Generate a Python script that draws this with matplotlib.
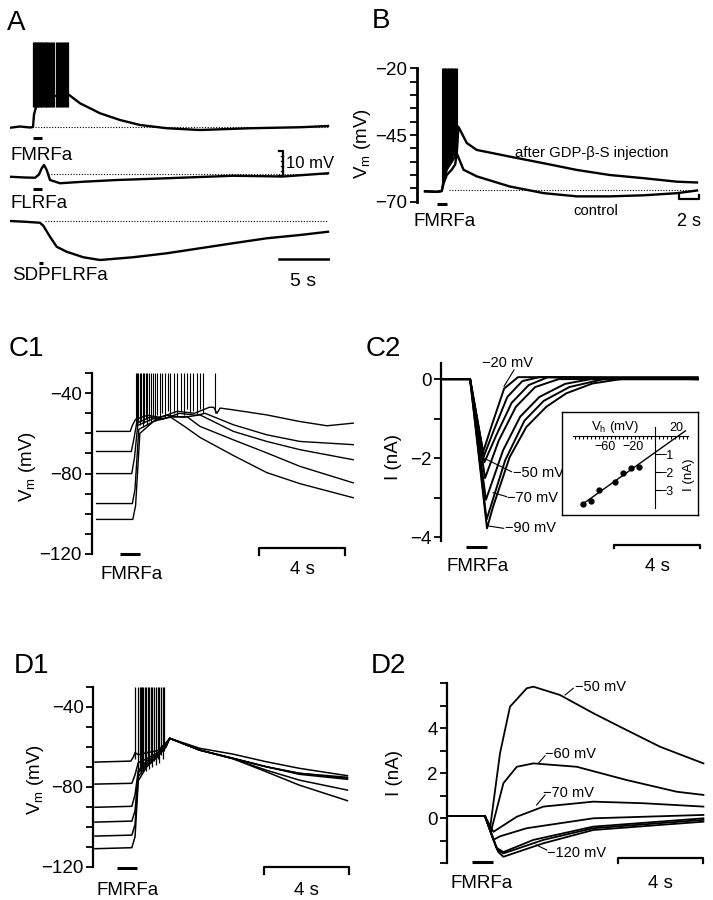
import numpy as np
import matplotlib.pyplot as plt

plt.rcParams['font.family'] = 'Liberation Sans'
plt.rcParams['mathtext.fontset'] = 'custom'
plt.rcParams['mathtext.rm'] = 'Liberation Sans'
plt.rcParams['mathtext.it'] = 'Liberation Sans:italic'

W, H = 713, 900
fig = plt.figure(figsize=(W / 100, H / 100), dpi=100)

# ---------------- data ----------------
# A: three traces (time s, mV relative to FMRFa baseline)
a1_t = [0.0, 1.0, 2.0, 2.30, 2.40, 2.60, 3.00, 3.50, 4.30, 5.00, 5.70, 5.85, 7.00, 9.00, 11.0, 13.0, 15.7, 19.0, 24.0, 29.0, 31.8]
a1_v = [-0.3, 0.2, -0.2, 0.0, 5.0, 8.0, 10.8, 13.0, 12.5, 12.3, 13.5, 13.0, 9.5, 5.5, 2.8, 0.8, -0.5, -1.2, -0.5, -0.1, 0.4]
a1_spk = [2.30, 2.38, 2.45, 2.52, 2.60, 2.68, 2.75, 2.83, 2.90, 2.98, 3.06, 3.14, 3.22, 3.30,
          3.38, 3.46, 3.55, 3.63, 3.72, 3.80, 3.90, 3.98, 4.08, 4.17, 4.27, 4.36, 4.60, 4.70,
          4.80, 4.90, 5.00, 5.10, 5.20, 5.30, 5.40, 5.50, 5.60, 5.70, 5.80]
a2_t = [0.0, 1.5, 2.5, 2.9, 3.17, 3.4, 3.67, 4.0, 5.0, 7.3, 10.7, 15.7, 22.3, 27.3, 31.8]
a2_v = [-19.9, -20.2, -20.3, -19.0, -16.5, -15.2, -17.2, -21.2, -22.5, -21.9, -21.2, -20.5, -19.5, -19.8, -18.5]
a3_t = [0.0, 1.5, 3.0, 3.33, 4.0, 4.67, 5.67, 7.33, 9.0, 12.3, 15.7, 19.0, 22.3, 25.7, 29.0, 31.8]
a3_v = [-37.6, -37.9, -38.3, -39.5, -43.9, -47.9, -49.9, -52.1, -53.2, -52.1, -50.5, -48.5, -46.5, -44.5, -43.2, -41.9]
a_rest = [0.0, -18.9, -37.7]
a_rest_start = [2.5, 3.8, 3.5]
a_names = ['FMRFa', 'FLRFa', 'SDPFLRFa']
a_stim = [(2.33, 3.17, -4.5), (2.33, 3.17, -24.7), (2.93, 3.33, -54.3)]
a_name_y = [-11.2, -30.5, -59.6]

# B: control vs after GDP-beta-S (time s, mV)
b_gdp_t = [0.83, 2.0, 2.5, 2.7, 3.0, 3.5, 4.0, 4.17, 5.0, 6.0, 9.3, 12.7, 16.0, 19.3, 22.7, 26.0, 28.0]
b_gdp_v = [-66.1, -66.3, -66.0, -62, -58, -55, -52, -41.9, -48.0, -50.6, -53.1, -55.6, -58.1, -60.0, -61.2, -62.5, -62.8]
b_ctl_t = [0.83, 2.0, 2.5, 2.7, 3.0, 3.5, 3.85, 4.0, 4.67, 6.0, 9.3, 12.7, 16.0, 19.3, 22.7, 26.0, 28.0]
b_ctl_v = [-66.1, -66.3, -66.0, -63, -60, -58, -56, -51.8, -58.0, -60.5, -64.3, -66.8, -68.0, -68.0, -67.6, -66.8, -65.8]
b_spk_t = [2.55, 2.62, 2.70, 2.78, 2.85, 2.92, 3.00, 3.08, 3.15, 3.22, 3.30, 3.38, 3.45, 3.52, 3.60, 3.70, 3.80, 3.92, 4.05]
b_spk_lo = [-64, -62, -60, -59, -58, -58, -57, -57, -56, -56, -55, -55, -54, -54, -53, -53, -52, -51, -50]
b_rest = -65.8

# C1: current clamp at five holding levels (time s, mV)
c1_t = [
    [0.23, 1.80, 1.90, 2.05, 2.6, 3.2, 4.0, 4.8, 5.5, 5.70, 5.85, 6.0, 6.62, 8.18, 9.73, 11.0, 12.22],
    [0.23, 1.85, 1.95, 2.10, 2.7, 3.3, 4.1, 4.9, 5.3, 6.62, 8.18, 9.73, 12.22],
    [0.23, 1.87, 2.0, 2.15, 2.8, 3.5, 4.3, 5.06, 6.62, 8.18, 9.73, 12.22],
    [0.23, 1.90, 2.02, 2.20, 2.9, 3.6, 4.44, 5.06, 6.62, 8.18, 9.73, 12.22],
    [0.23, 1.92, 2.05, 2.25, 3.0, 3.7, 4.4, 5.06, 6.62, 8.18, 9.73, 12.22],
]
c1_v = [
    [-59.0, -59.0, -56, -53, -51, -52, -49, -50, -47, -47, -50, -47.4, -48.3, -50.8, -54.1, -56.2, -54.9],
    [-69.0, -69.0, -64, -55, -52, -53, -50, -51, -50, -55.7, -60.7, -64.0, -65.6],
    [-80, -80, -72, -56, -53, -51, -52, -50.8, -59, -64, -68.1, -73.1],
    [-94.9, -94.9, -88, -58, -54, -52, -51.6, -56.5, -63.2, -69.7, -76.4, -84.6],
    [-102.8, -102.8, -96, -60, -53, -52, -57, -62, -71, -79.5, -85, -92],
]
c1_spk_t = [2.05, 2.12, 2.18, 2.25, 2.32, 2.38, 2.45, 2.52, 2.60, 2.68, 2.76, 2.85, 2.95, 3.05, 3.18,
            3.30, 3.42, 3.55, 3.68, 3.85, 4.0, 4.15, 4.3, 4.45, 4.6, 4.75, 4.9, 5.05, 5.2, 5.76]
c1_spk_lo = [-56, -57, -55, -56, -54, -57, -55, -53, -56, -54, -55, -52, -54, -51, -53,
             -50, -52, -49, -51, -50, -52, -49, -51, -48, -50, -49, -51, -48, -50, -50]

# C2: voltage clamp currents (time s, nA), holding -90 ... -20 mV
c2_t = [
    [0.05, 1.36, 2.15, 2.43, 3.21, 3.99, 4.92, 5.85, 7.08, 8.64, 12.0],
    [0.05, 1.36, 2.13, 3.0, 3.9, 4.8, 6.0, 7.6, 12.0],
    [0.05, 1.36, 2.10, 2.9, 3.7, 4.6, 5.8, 7.0, 12.0],
    [0.05, 1.36, 2.06, 2.7, 3.5, 4.4, 5.5, 12.0],
    [0.05, 1.36, 2.03, 2.6, 3.3, 4.1, 5.0, 12.0],
    [0.05, 1.36, 2.00, 2.5, 3.1, 3.8, 4.6, 12.0],
    [0.05, 1.36, 1.97, 2.40, 2.95, 3.6, 12.0],
]
c2_i = [
    [0.0, 0.0, -3.77, -3.23, -1.97, -1.21, -0.70, -0.36, -0.11, 0.02, 0.0],
    [0.0, 0.0, -3.55, -2.05, -1.05, -0.55, -0.2, 0.0, 0.0],
    [0.0, 0.0, -3.05, -1.8, -0.95, -0.45, -0.12, 0.0, 0.0],
    [0.0, 0.0, -2.5, -1.55, -0.7, -0.2, 0.0, 0.0],
    [0.0, 0.0, -2.1, -1.4, -0.6, -0.15, 0.05, 0.0],
    [0.0, 0.0, -1.95, -1.25, -0.45, -0.05, 0.05, 0.0],
    [0.0, 0.0, -1.84, -1.12, -0.24, 0.05, 0.05],
]
c2_labels = ['−20 mV', '−50 mV', '−70 mV', '−90 mV']
c2_label_pos = [(1.90, 0.40), (3.38, -2.37), (3.07, -3.01), (3.00, -3.77)]
c2_leader = [((2.95, 3.41), (-0.18, 0.23)), ((2.13, 3.30), (-2.03, -2.34)),
             ((2.44, 3.07), (-2.87, -2.97)), ((2.21, 2.93), (-3.71, -3.77))]

# C2 inset: peak current vs holding potential
iv_v = [-90, -80, -70, -50, -40, -30, -20]
iv_i = [-3.78, -3.59, -3.0, -2.54, -2.07, -1.79, -1.70]

# D1: current clamp, six holding levels (time s, mV)
d1_t = [
    [0.08, 1.75, 1.88, 1.95, 2.1, 2.5, 3.0, 3.4, 3.57, 4.97, 6.52, 8.07, 9.62, 11.87],
    [0.08, 1.80, 1.95, 2.1, 2.5, 3.0, 3.4, 3.57, 4.97, 6.52, 8.07, 9.62, 11.87],
    [0.08, 1.80, 1.95, 2.1, 2.5, 3.0, 3.4, 3.57, 4.97, 6.52, 8.07, 9.62, 11.87],
    [0.08, 1.80, 1.95, 2.1, 2.5, 3.0, 3.4, 3.57, 4.97, 6.52, 8.07, 9.62, 11.87],
    [0.08, 1.80, 1.95, 2.1, 2.5, 3.0, 3.4, 3.57, 4.97, 6.52, 8.07, 9.62, 11.87],
    [0.08, 1.80, 1.95, 2.1, 2.5, 3.0, 3.4, 3.57, 4.97, 6.52, 8.07, 9.62, 11.87],
]
d1_v = [
    [-67.7, -67.2, -65, -63, -64, -63, -62, -58, -55.8, -60.8, -63.7, -67.5, -70.8, -74.5],
    [-78.7, -78.3, -74, -68, -66, -63, -59, -55.8, -61.7, -65.8, -70, -73.3, -75.3],
    [-90.3, -89.8, -84, -72, -67, -64, -59, -55.8, -61.7, -65.8, -70, -73.3, -75.8],
    [-97.7, -97.2, -92, -73, -68, -64, -59, -55.8, -61.7, -65.8, -70, -73.8, -76.3],
    [-104.7, -104.2, -99, -75, -69, -65, -60, -55.8, -61.7, -66, -71.7, -76.7, -81.7],
    [-111, -110.5, -105, -77, -70, -65, -60, -55.8, -61.7, -66, -72.5, -79.2, -87],
]
d1_spk_t = [1.93, 2.10, 2.16, 2.22, 2.28, 2.34, 2.40, 2.47, 2.54, 2.61, 2.68, 2.76, 2.84, 2.92, 3.00, 3.08, 3.16, 3.24, 3.31]
d1_spk_lo = [-66, -73, -72, -73, -71, -72, -70, -72, -69, -71, -68, -70, -67, -69, -66, -68, -64, -66, -62]

# D2: voltage clamp currents (time s, nA), holding -50 ... -120 mV
d2_t = [
    [0.04, 1.77, 2.01, 2.48, 2.95, 3.74, 4.05, 5.30, 6.87, 8.44, 10.01, 12.05],
    [0.04, 1.77, 2.05, 2.64, 3.27, 4.05, 6.09, 8.44, 10.8, 12.05],
    [0.04, 1.77, 2.17, 3.27, 4.52, 6.87, 9.22, 12.05],
    [0.04, 1.77, 2.17, 2.48, 3.74, 6.87, 12.05],
    [0.04, 1.77, 2.30, 2.64, 4.05, 6.87, 12.05],
    [0.04, 1.77, 2.35, 2.64, 4.52, 6.87, 12.05],
    [0.04, 1.77, 2.40, 2.64, 4.52, 6.87, 12.05],
]
d2_i = [
    [0.1, 0.1, -0.45, 2.89, 4.96, 5.78, 5.85, 5.48, 4.67, 3.92, 3.18, 2.44],
    [0.1, 0.1, -0.6, 1.56, 2.29, 2.44, 2.29, 1.70, 1.18, 1.04],
    [0.1, 0.1, -0.6, 0.07, 0.52, 0.74, 0.67, 0.52],
    [0.1, 0.1, -0.96, -0.8, -0.44, 0.0, 0.15],
    [0.1, 0.1, -1.3, -1.5, -0.96, -0.37, 0.0],
    [0.1, 0.1, -1.4, -1.56, -0.96, -0.44, -0.07],
    [0.1, 0.1, -1.5, -1.71, -1.11, -0.52, -0.15],
]
d2_labels = ['−50 mV', '−60 mV', '−70 mV', '−120 mV']
d2_label_pos = [(6.0, 5.85), (4.6, 2.86), (4.52, 1.11), (4.68, -1.53)]
d2_leader = [((5.54, 5.93), (5.48, 5.78)), ((4.28, 4.6), (2.44, 2.78)),
             ((4.2, 4.6), (0.59, 1.04)), ((4.18, 4.68), (-1.18, -1.41))]


# ---------------- helpers ----------------
def px_axes(x0, y0, x1, y1):
    ax = fig.add_axes([x0 / W, 1 - y1 / H, (x1 - x0) / W, (y1 - y0) / H])
    ax.patch.set_visible(False)
    return ax


def ftext(x, y, s, **kw):
    fig.text(x / W, 1 - y / H, s, **kw)


def left_axis(ax, xlim, ylim, major, minor):
    for s in ['top', 'right', 'bottom']:
        ax.spines[s].set_visible(False)
    ax.spines['left'].set_linewidth(1.6)
    ax.set_xlim(*xlim)
    ax.set_ylim(*ylim)
    ax.set_yticks(major)
    ax.set_yticks(minor, minor=True)
    ax.tick_params(axis='y', which='both', direction='out', length=5, width=1.3,
                   pad=2, labelsize=13.5)
    ax.set_xticks([])


def stim(ax, t0, t1, y):
    ax.plot([t0, t1], [y, y], color='k', lw=2.2, solid_capstyle='butt', clip_on=False)


def hbar(ax, t0, t1, y, drop, label, ly, fs=13.5):
    ax.plot([t0, t0, t1, t1], [y - drop, y, y, y - drop], color='k', lw=1.6, clip_on=False)
    ax.text((t0 + t1) / 2, ly, label, ha='center', va='center', fontsize=fs)


# ---------------- panel A ----------------
axA = px_axes(10, 30, 330, 290)
axA.axis('off')
axA.set_xlim(0, 32)
axA.set_ylim(-65.2, 38.8)
for t, v in [(a1_t, a1_v), (a2_t, a2_v), (a3_t, a3_v)]:
    axA.plot(t, v, color='k', lw=1.7)
axA.vlines(a1_spk, 8, 34, colors='k', lw=0.9)
for y0, ts in zip(a_rest, a_rest_start):
    axA.plot([ts, 31.8], [y0, y0], color='k', lw=0.8, ls=(0, (1, 1.5)))
for (t0, t1, y), name, ny in zip(a_stim, a_names, a_name_y):
    stim(axA, t0, t1, y)
    axA.text(0.1 if name != 'SDPFLRFa' else 0.17, ny, name, ha='left', va='center', fontsize=13.5)
# 10 mV scale bar (ruler style)
axA.plot([26.9, 27.27, 27.27, 26.9], [-9.5, -9.5, -19.5, -19.5], color='k', lw=1.6)
for y in [-11.5, -13.5, -15.5, -17.5]:
    axA.plot([27.05, 27.27], [y, y], color='k', lw=1.0)
axA.text(27.6, -14.5, '10 mV', ha='left', va='center', fontsize=12)
axA.plot([26.93, 31.93], [-52.9, -52.9], color='k', lw=1.8)
axA.text(29.3, -61.9, '5 s', ha='center', va='center', fontsize=14)

# ---------------- panel B ----------------
axB = px_axes(416.7, 68.3, 702, 201.7)
left_axis(axB, (0, 28.5), (-70, -20), [-70, -45, -20], list(range(-70, -19, 5)))
axB.spines['left'].set_linewidth(2.0)
axB.plot(b_gdp_t, b_gdp_v, color='k', lw=1.7)
axB.plot(b_ctl_t, b_ctl_v, color='k', lw=1.7)
axB.vlines(b_spk_t, b_spk_lo, -20, colors='k', lw=0.8)
axB.plot([3.2, 28.2], [b_rest, b_rest], color='k', lw=0.8, ls=(0, (1, 1.5)))
stim(axB, 2.07, 3.07, -71)
axB.text(-0.3, -77.4, 'FMRFa', ha='left', va='center', fontsize=13.5)
hbar(axB, 26.17, 28.17, -69, -1.6, '2 s', -77.4, fs=13)
axB.text(9.83, -51.8, 'after GDP-β-S injection', ha='left', va='center', fontsize=10.7)
axB.text(15.67, -73.6, 'control', ha='left', va='center', fontsize=10.7)
ftext(363, 144, r'V$_{\rm m}$ (mV)', rotation=90, ha='center', va='center', fontsize=13.5)

# ---------------- panel C1 ----------------
axC1 = px_axes(91.7, 373.1, 356, 554)
left_axis(axC1, (0, 12.35), (-120, -30), [-120, -80, -40], list(range(-120, -29, 10)))
for t, v in zip(c1_t, c1_v):
    axC1.plot(t, v, color='k', lw=1.0)
axC1.vlines(c1_spk_t, c1_spk_lo, -30, colors='k', lw=0.8)
stim(axC1, 1.32, 2.26, -120)
axC1.text(0.39, -130, 'FMRFa', ha='left', va='center', fontsize=13.5)
hbar(axC1, 7.83, 11.83, -116.8, 3.5, '4 s', -127.6)
ftext(28, 467, r'V$_{\rm m}$ (mV)', rotation=90, ha='center', va='center', fontsize=13.5)

# ---------------- panel C2 ----------------
axC2 = px_axes(441, 363.3, 702, 541.4)
left_axis(axC2, (0, 12.2), (-4.1, 0.4), [-4, -2, 0], [-4, -3, -2, -1, 0])
for t, i in zip(c2_t, c2_i):
    axC2.plot(t, i, color='k', lw=1.4)
for lab, (x, y), (lx, ly) in zip(c2_labels, c2_label_pos, c2_leader):
    axC2.plot(lx, ly, color='k', lw=0.8)
    axC2.text(x, y, lab, ha='left', va='center', fontsize=10.5)
stim(axC2, 1.17, 2.16, -4.23)
axC2.text(0.27, -4.74, 'FMRFa', ha='left', va='center', fontsize=13.5)
hbar(axC2, 8.1, 12.1, -4.19, 0.07, '4 s', -4.74)
ftext(393, 457, 'I (nA)', rotation=90, ha='center', va='center', fontsize=13.5)

# inset I-V
box = fig.add_axes([561.7 / W, 1 - 515 / H, (698.3 - 561.7) / W, (515 - 411.7) / H])
box.set_xticks([])
box.set_yticks([])
for s in box.spines.values():
    s.set_linewidth(1.0)
ins = px_axes(561.7, 411.7, 698.3, 515)
ins.set_xlim(-116.6, 54.1)
ins.set_ylim(-4.39, 1.35)
ins.spines['top'].set_visible(False)
ins.spines['right'].set_visible(False)
ins.spines['left'].set_position(('data', 0))
ins.spines['bottom'].set_position(('data', 0))
ins.spines['left'].set_bounds(-4.0, 0.5)
ins.spines['bottom'].set_bounds(-103, 41)
ins.set_xticks(list(range(-100, 41, 5)))
ins.set_xticklabels([])
ins.set_yticks([-3, -2, -1])
ins.set_yticklabels([])
ins.tick_params(axis='x', direction='out', length=2, width=0.8)
ins.tick_params(axis='y', direction='in', length=4, width=0.8)
ins.plot(iv_v, iv_i, 'ko', ms=3.5)
k, b = np.polyfit(iv_v, iv_i, 1)
ins.plot([-92, 38], [k * -92 + b, k * 38 + b], color='k', lw=1.0)
for v, s in [(-62.5, '−60'), (-27.5, '−20')]:
    ins.text(v, -0.6, s, ha='center', va='center', fontsize=9)
ins.text(27, 0.45, '20', ha='center', va='center', fontsize=9)
ins.text(-50, 0.5, r'V$_{\rm h}$ (mV)', ha='center', va='center', fontsize=9.5)
for y, s in [(-1.1, '−1'), (-2.1, '−2'), (-3.1, '−3')]:
    ins.text(6, y, s, ha='left', va='center', fontsize=9)
ins.text(42.5, -2.17, 'I (nA)', rotation=90, ha='center', va='center', fontsize=9.5)

# ---------------- panel D1 ----------------
axD1 = px_axes(93.3, 686.7, 356, 866.7)
left_axis(axD1, (0, 12.27), (-120, -30), [-120, -80, -40], list(range(-120, -29, 10)))
for t, v in zip(d1_t, d1_v):
    axD1.plot(t, v, color='k', lw=1.1)
axD1.vlines(d1_spk_t, d1_spk_lo, -30, colors='k', lw=0.9)
stim(axD1, 1.09, 2.05, -120.7)
axD1.text(0.16, -131.7, 'FMRFa', ha='left', va='center', fontsize=13.5)
hbar(axD1, 7.95, 11.94, -120, 3.6, '4 s', -131.7)
ftext(35, 780, r'V$_{\rm m}$ (mV)', rotation=90, ha='center', va='center', fontsize=13.5)

# ---------------- panel D2 ----------------
axD2 = px_axes(447.3, 683.3, 706.6, 863.3)
left_axis(axD2, (0, 12.2), (-2, 6), [0, 2, 4], list(range(-2, 7)))
for t, i in zip(d2_t, d2_i):
    axD2.plot(t, i, color='k', lw=1.3)
for lab, (x, y), (lx, ly) in zip(d2_labels, d2_label_pos, d2_leader):
    axD2.plot(lx, ly, color='k', lw=0.8)
    axD2.text(x, y, lab, ha='left', va='center', fontsize=10.5)
stim(axD2, 1.15, 2.16, -1.93)
axD2.text(0.13, -2.89, 'FMRFa', ha='left', va='center', fontsize=13.5)
hbar(axD2, 8.05, 12.05, -1.78, 0.22, '4 s', -2.89)
ftext(395, 773, 'I (nA)', rotation=90, ha='center', va='center', fontsize=13.5)

# ---------------- panel letters ----------------
for x, y, s in [(7, 10, 'A'), (372, 8, 'B'), (9, 336, 'C1'), (366, 336, 'C2'),
                (14, 653, 'D1'), (371, 653, 'D2')]:
    ftext(x, y, s, ha='left', va='top', fontsize=20)

fig.savefig('out.png', dpi=100)
